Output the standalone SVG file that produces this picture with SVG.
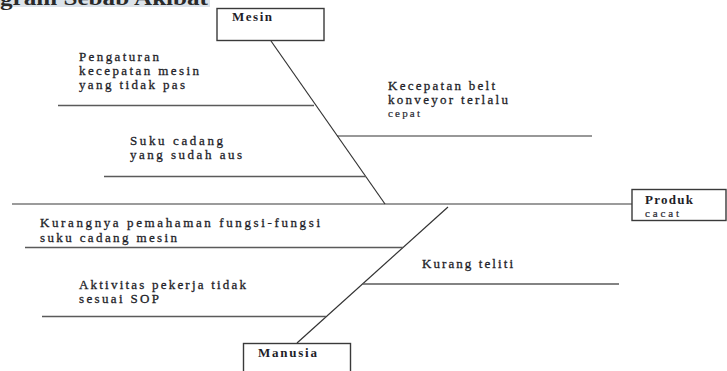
<svg xmlns="http://www.w3.org/2000/svg" width="727" height="371" viewBox="0 0 727 371">
<style>
  .bg{fill:#ffffff}
  .box{fill:#ffffff;stroke:#3a3a3a;stroke-width:1.4}
  .bone{stroke:#333333;stroke-width:1.2;fill:none}
  .rib{stroke:#5a5a5a;stroke-width:1.4;fill:none}
  .spine{stroke:#7a7a7a;stroke-width:1.6;fill:none}
  .t{font-family:"Liberation Serif","Times New Roman",serif;font-size:13px;fill:#1e1e28;stroke:#1e1e28;stroke-width:0.3}
  .tb{font-family:"Liberation Serif","Times New Roman",serif;font-size:13px;font-weight:bold;fill:#1e1e28}
  .ts{font-family:"Liberation Serif","Times New Roman",serif;font-size:11px;fill:#2a2a33;stroke:#2a2a33;stroke-width:0.2}
  .title{font-family:"Liberation Serif","Times New Roman",serif;font-size:21px;font-weight:bold;fill:#2a2a2a}
</style>
<rect class="bg" x="0" y="0" width="727" height="371"/>

<g id="title">
  <rect x="0" y="0" width="210" height="7" fill="#dce3ea"/>
  <text class="title" x="0" y="4.5" textLength="208" lengthAdjust="spacingAndGlyphs">gram Sebab Akibat</text>
</g>

<g id="connectors">
  <line class="spine" x1="12" y1="204" x2="632" y2="204"/>
  <line class="bone" x1="271" y1="41" x2="385" y2="204"/>
  <line class="bone" x1="448" y1="207" x2="297" y2="343"/>
  <line class="rib" x1="58" y1="105.5" x2="314" y2="105.5"/>
  <line class="rib" x1="104" y1="176.5" x2="366" y2="176.5"/>
  <line class="bone" x1="337" y1="136" x2="592" y2="136"/>
  <line class="rib" x1="25" y1="247.5" x2="403" y2="247.5"/>
  <line class="rib" x1="42" y1="316.5" x2="326" y2="316.5"/>
  <line class="rib" x1="363" y1="284" x2="619" y2="284"/>
</g>

<g id="node-mesin">
  <rect class="box" x="217" y="8.5" width="107" height="32"/>
  <text class="tb" x="232" y="21" textLength="40" lengthAdjust="spacing">Mesin</text>
</g>

<g id="node-manusia">
  <rect class="box" x="243.5" y="343.5" width="107" height="40"/>
  <text class="tb" x="258" y="357" textLength="59" lengthAdjust="spacing">Manusia</text>
</g>

<g id="node-produk">
  <rect class="box" x="632" y="189.5" width="94" height="31"/>
  <text class="tb" x="645" y="204" textLength="48" lengthAdjust="spacing">Produk</text>
  <text class="ts" x="645" y="216.5" textLength="34" lengthAdjust="spacing">cacat</text>
</g>

<g id="cause-pengaturan">
  <text class="t" x="79" y="61" textLength="80" lengthAdjust="spacing">Pengaturan</text>
  <text class="t" x="79" y="75" textLength="120" lengthAdjust="spacing">kecepatan mesin</text>
  <text class="t" x="79" y="89" textLength="106" lengthAdjust="spacing">yang tidak pas</text>
</g>

<g id="cause-suku-cadang">
  <text class="t" x="130" y="145" textLength="93" lengthAdjust="spacing">Suku cadang</text>
  <text class="t" x="130" y="159" textLength="112" lengthAdjust="spacing">yang sudah aus</text>
</g>

<g id="cause-kecepatan-belt">
  <text class="t" x="388" y="90" textLength="107" lengthAdjust="spacing">Kecepatan belt</text>
  <text class="t" x="388" y="103.5" textLength="120" lengthAdjust="spacing">konveyor terlalu</text>
  <text class="ts" x="388" y="117" textLength="32" lengthAdjust="spacing">cepat</text>
</g>

<g id="cause-pemahaman">
  <text class="t" x="40" y="226.5" textLength="280" lengthAdjust="spacing">Kurangnya pemahaman fungsi-fungsi</text>
  <text class="t" x="40" y="241.5" textLength="137" lengthAdjust="spacing">suku cadang mesin</text>
</g>

<g id="cause-aktivitas">
  <text class="t" x="79" y="288.5" textLength="167" lengthAdjust="spacing">Aktivitas pekerja tidak</text>
  <text class="t" x="79" y="303" textLength="80" lengthAdjust="spacing">sesuai SOP</text>
</g>

<g id="cause-kurang-teliti">
  <text class="t" x="422" y="267.5" textLength="91" lengthAdjust="spacing">Kurang teliti</text>
</g>
</svg>
